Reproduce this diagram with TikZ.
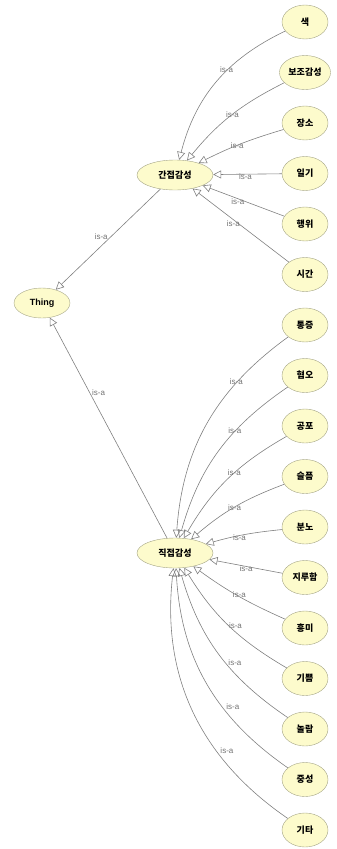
\documentclass[tikz,border=0pt]{standalone}
\usepackage{fontspec}
\setmainfont{Liberation Sans}
\newfontfamily\kr{Noto Sans CJK KR}
\usetikzlibrary{positioning,arrows.meta,shapes.geometric}
\definecolor{classfill}{RGB}{253,251,204}
\definecolor{classline}{RGB}{165,165,135}
\definecolor{isagray}{RGB}{115,115,115}

\begin{document}
\begin{tikzpicture}[x=1pt, y=-1pt, node distance=50.5pt,
  class node/.style={ellipse, draw=classline, fill=classfill, inner sep=1.5pt,
    minimum width=46pt, minimum height=34pt, font=\kr\bfseries\small},
  root node/.style={class node, minimum width=56pt, minimum height=30pt, font=\small\bfseries},
  isa/.style={draw=gray, line width=0.6pt, -{Triangle[open, length=8pt, width=8pt]}},
  isa label/.style={font=\footnotesize, text=isagray, inner sep=1pt}]
  \useasboundingbox (0,0) rectangle (337,849);

  \node[root node] (thing) at (42,303) {Thing};
  \node[class node, minimum width=76pt, minimum height=30pt] (indirect) at (175,175) {간접감성};
  \node[class node, minimum width=76pt, minimum height=30pt] (direct) at (175,553) {직접감성};

  % indirect senses
  \node[class node] (i1) at (305,22) {색};
  \node[class node] (i2) [below of=i1] {보조감성};
  \node[class node] (i3) [below of=i2] {장소};
  \node[class node] (i4) [below of=i3] {일기};
  \node[class node] (i5) [below of=i4] {행위};
  \node[class node] (i6) [below of=i5] {시간};

  % direct senses
  \node[class node] (d1) [below of=i6] {통증};
  \node[class node] (d2) [below of=d1] {혐오};
  \node[class node] (d3) [below of=d2] {공포};
  \node[class node] (d4) [below of=d3] {슬픔};
  \node[class node] (d5) [below of=d4] {분노};
  \node[class node] (d6) [below of=d5] {지루함};
  \node[class node] (d7) [below of=d6] {흥미};
  \node[class node] (d8) [below of=d7] {기쁨};
  \node[class node] (d9) [below of=d8] {놀람};
  \node[class node] (d10) [below of=d9] {중성};
  \node[class node] (d11) [below of=d10] {기타};

  \draw[isa] (indirect) -- node[isa label, pos=.53, anchor=east, xshift=4pt, yshift=6pt] {is-a} (thing);
  \draw[isa] (direct) -- node[isa label, pos=.65, anchor=west, yshift=2pt] {is-a} (thing);

  \foreach \child/\bend/\where/\shift in {i1/-25/.38/-3, i2/-12/.45/-3, i3/-5/.5/-3, i4/0/.5/-2, i5/0/.55/-2, i6/0/.55/-3}
    \draw[isa] (\child) to[bend left=\bend] node[isa label, pos=\where, xshift=\shift pt, yshift=-2pt] {is-a} (indirect);

  \foreach \child/\bend/\where/\shift in {d1/-25/.26/-3, d2/-20/.33/-3, d3/-15/.4/-3, d4/-10/.47/-3, d5/-5/.53/-2, d6/0/.47/-2,
      d7/6/.55/6, d8/14/.52/9, d9/20/.45/11, d10/26/.38/12, d11/31/.34/12}
    \draw[isa] (\child) to[bend left=\bend] node[isa label, pos=\where, xshift=\shift pt, yshift=-2pt] {is-a} (direct);
\end{tikzpicture}
\end{document}
